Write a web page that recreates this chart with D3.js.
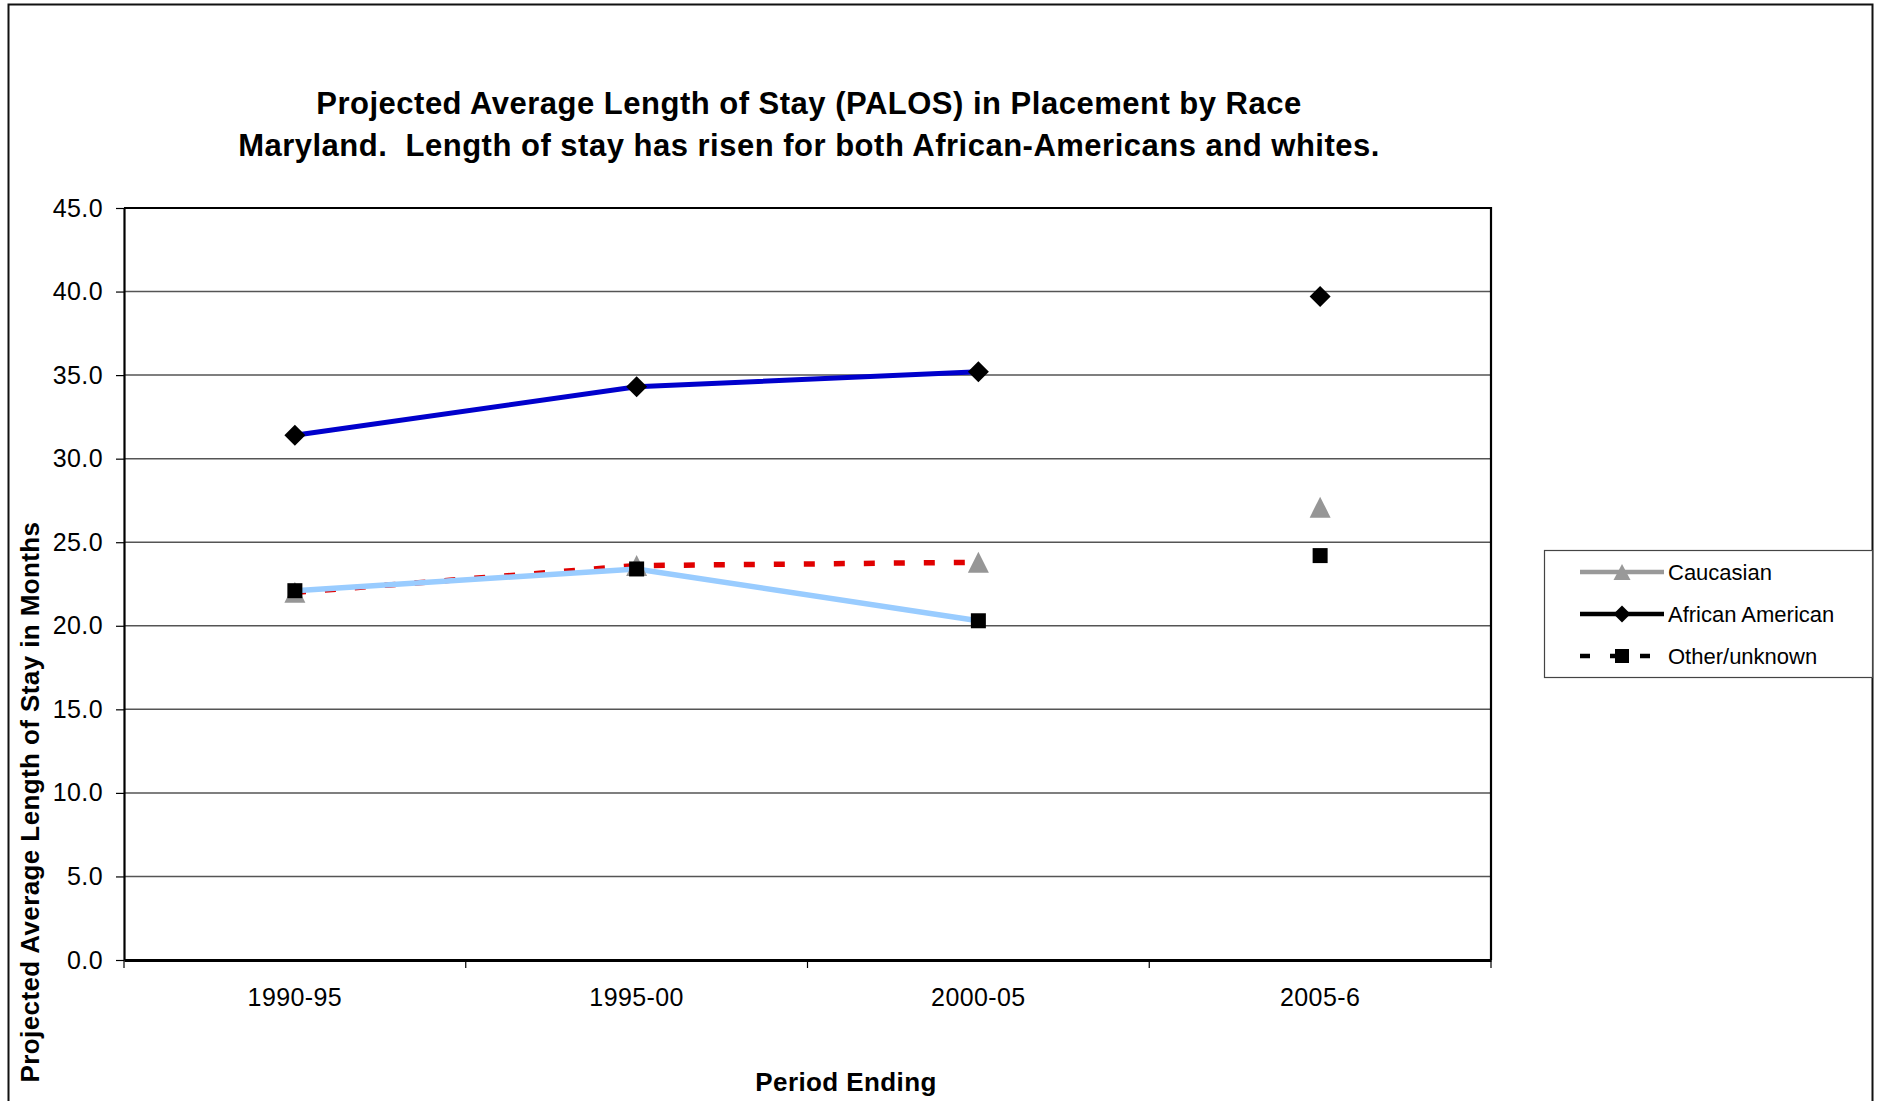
<!DOCTYPE html>
<html>
<head>
<meta charset="UTF-8">
<title>PALOS by Race</title>
<script src="https://d3js.org/d3.v7.min.js"></script>
<style>
    body { margin: 0; background: #fff; }
    svg { display: block; }
    text { font-family: "Liberation Sans", Arial, sans-serif; fill: #000; }
    .title { font-size: 31px; font-weight: bold; letter-spacing: 0.5px; white-space: pre; }
    .axis-title { font-size: 26px; font-weight: bold; letter-spacing: 0.4px; }
    .tick text { font-size: 25px; letter-spacing: 0.4px; }
    .legend text { font-size: 22px; }
</style>
</head>
<body>
<svg id="chart" width="1881" height="1101"></svg>
<script>
// chart values
const periods = ['1990-95', '1995-00', '2000-05', '2005-6']
const caucasian = [22.0, 23.6, 23.8, 27.1]
const africanAmerican = [31.4, 34.3, 35.2, 39.7]
const otherUnknown = [22.1, 23.4, 20.3, 24.2]
// the lines only run through these periods, 2005-6 is markers only
const joinedPeriods = ['1990-95', '1995-00', '2000-05']
const yTicks = [0, 5, 10, 15, 20, 25, 30, 35, 40, 45]
const legendNames = ['Caucasian', 'African American', 'Other/unknown']
const titleLines = [
    'Projected Average Length of Stay (PALOS) in Placement by Race',
    'Maryland.  Length of stay has risen for both African-Americans and whites.'
]

const svg = d3.select('#chart')

// plot area
const plot = { left: 124, right: 1491, top: 208, bottom: 960 }

const x = d3.scaleBand().domain(periods).range([plot.left, plot.right]).padding(0)
const y = d3.scaleLinear().domain([0, 45]).range([plot.bottom, plot.top])

// marker shapes, centred on 0,0
function diamond(s) { return `M0,${-s}L${s},0L0,${s}L${-s},0Z` }
function triangle(w, h) { return `M0,${-h/2}L${w/2},${h/2}L${-w/2},${h/2}Z` }
function square(s) { return `M${-s/2},${-s/2}h${s}v${s}h${-s}Z` }

// outer border of the chart
svg.append('rect')
    .attr('x', 8.5).attr('y', 4.5)
    .attr('width', 1864).attr('height', 1120)
    .style('fill', 'none').style('stroke', '#111').style('stroke-width', 2)

// title
svg.selectAll('.title')
    .data(titleLines)
    .enter()
    .append('text')
    .attr('class', 'title')
    .attr('x', 809)
    .attr('y', (d, i) => 114 + i * 42)
    .attr('text-anchor', 'middle')
    .text(d => d)

// gridlines
svg.append('g')
    .selectAll('line')
    .data(yTicks.filter(t => t > 0 && t < 45))
    .enter()
    .append('line')
    .attr('x1', plot.left).attr('x2', plot.right)
    .attr('y1', d => y(d)).attr('y2', d => y(d))
    .style('stroke', '#555').style('stroke-width', 1.5)

// frame top and right
svg.append('path')
    .attr('d', `M${plot.left},${plot.top}H${plot.right}V${plot.bottom}`)
    .style('fill', 'none').style('stroke', '#000').style('stroke-width', 2.2)

// y axis
const yAxis = d3.axisLeft(y)
    .tickValues(yTicks)
    .tickFormat(d3.format('.1f'))
    .tickSize(8)
    .tickSizeOuter(0)
    .tickPadding(13)
svg.append('g')
    .attr('transform', `translate(${plot.left},0)`)
    .call(yAxis)
    .call(g => g.select('.domain').style('stroke-width', 2.2))
    .call(g => g.selectAll('.tick line').style('stroke-width', 1.2))
    .call(g => g.selectAll('.tick text').attr('font-size', null).attr('font-family', null))

// x axis, labels at band centres
const xAxis = d3.axisBottom(x).tickSize(0).tickSizeOuter(0).tickPadding(28)
svg.append('g')
    .attr('transform', `translate(0,${plot.bottom})`)
    .call(xAxis)
    .call(g => g.select('.domain').style('stroke-width', 2.8))
    .call(g => g.selectAll('.tick text').attr('font-size', null).attr('font-family', null))

// x ticks sit on the band edges
const edges = periods.map(p => x(p)).concat([x.range()[1]])
svg.append('g')
    .selectAll('line')
    .data(edges)
    .enter()
    .append('line')
    .attr('x1', d => d).attr('x2', d => d)
    .attr('y1', plot.bottom).attr('y2', plot.bottom + 8)
    .style('stroke', '#000').style('stroke-width', 1.2)

// axis titles
svg.append('text')
    .attr('class', 'axis-title')
    .attr('transform', 'translate(39,802) rotate(-90)')
    .attr('text-anchor', 'middle')
    .text('Projected Average Length of Stay in Months')

svg.append('text')
    .attr('class', 'axis-title')
    .attr('x', 846)
    .attr('y', 1091)
    .attr('text-anchor', 'middle')
    .text('Period Ending')

// series
const cx = p => x(p) + x.bandwidth() / 2
const toPoints = vals => periods.map((p, i) => ({ period: p, value: vals[i] }))
const line = d3.line().x(d => cx(d.period)).y(d => y(d.value))
const joined = pts => pts.filter(d => joinedPeriods.includes(d.period))

const cauPts = toPoints(caucasian)
const aaPts = toPoints(africanAmerican)
const othPts = toPoints(otherUnknown)

svg.append('path')
    .datum(joined(aaPts))
    .attr('d', line)
    .style('fill', 'none').style('stroke', '#0000cc').style('stroke-width', 5)

svg.append('path')
    .datum(joined(cauPts))
    .attr('d', line)
    .style('fill', 'none').style('stroke', '#e00000').style('stroke-width', 5.5)
    .style('stroke-dasharray', '11,19')

svg.append('path')
    .datum(joined(othPts))
    .attr('d', line)
    .style('fill', 'none').style('stroke', '#99ccff').style('stroke-width', 5.5)

svg.append('g')
    .selectAll('path')
    .data(cauPts)
    .enter()
    .append('path')
    .attr('d', triangle(21, 21))
    .attr('transform', d => `translate(${cx(d.period)},${y(d.value)})`)
    .style('fill', '#969696')

svg.append('g')
    .selectAll('path')
    .data(aaPts)
    .enter()
    .append('path')
    .attr('d', diamond(10.5))
    .attr('transform', d => `translate(${cx(d.period)},${y(d.value)})`)
    .style('fill', '#000')

svg.append('g')
    .selectAll('path')
    .data(othPts)
    .enter()
    .append('path')
    .attr('d', square(15))
    .attr('transform', d => `translate(${cx(d.period)},${y(d.value)})`)
    .style('fill', '#000')

// legend
const legend = svg.append('g').attr('class', 'legend')
legend.append('rect')
    .attr('x', 1544.5).attr('y', 550.5)
    .attr('width', 328).attr('height', 127)
    .style('fill', '#fff').style('stroke', '#444').style('stroke-width', 1.2)

const legendStyles = [
    { stroke: '#999', dash: null, marker: triangle(17, 16), fill: '#999' },
    { stroke: '#000', dash: null, marker: diamond(8.5), fill: '#000' },
    { stroke: '#000', dash: '10,20', marker: square(14), fill: '#000' }
]
legendNames.forEach((name, i) => {
    const ly = 572 + i * 42
    const st = legendStyles[i]
    legend.append('line')
        .attr('x1', 1580).attr('x2', 1664)
        .attr('y1', ly).attr('y2', ly)
        .style('stroke', st.stroke).style('stroke-width', 4.5)
        .style('stroke-dasharray', st.dash)
    legend.append('path')
        .attr('d', st.marker)
        .attr('transform', `translate(1622,${ly})`)
        .style('fill', st.fill)
    legend.append('text')
        .attr('x', 1668)
        .attr('y', ly + 8)
        .text(name)
})
</script>
</body>
</html>
